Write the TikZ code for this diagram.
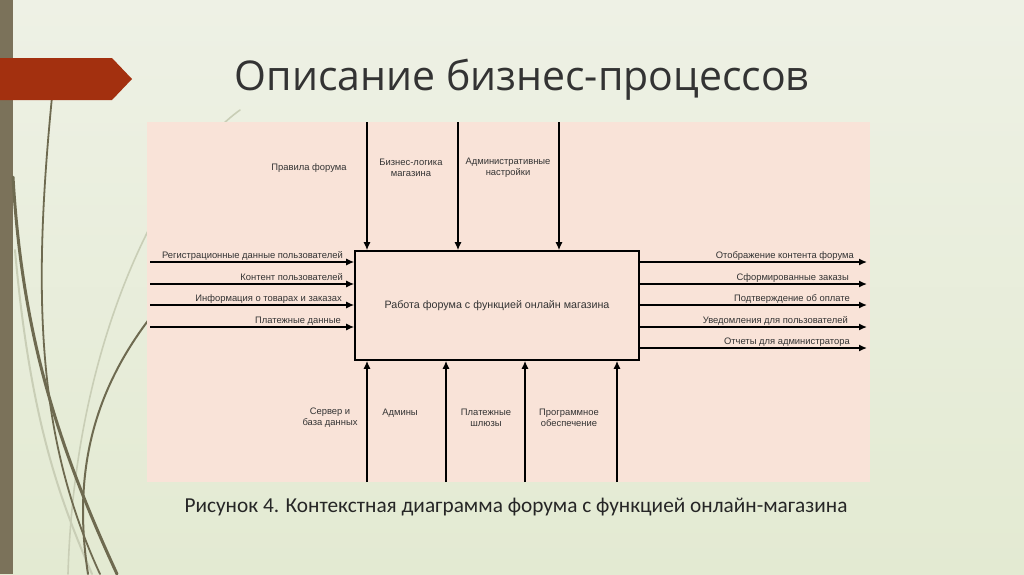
\documentclass[tikz,border=0pt]{standalone}
\usepackage{fontspec}
\setmainfont{Liberation Sans}
\newfontfamily\titlefont{Open Sans}
\newfontfamily\capfont{Carlito}
\usetikzlibrary{arrows.meta}
\definecolor{bgtop}{HTML}{EEF1E5}
\definecolor{bgbot}{HTML}{E3EAD2}
\definecolor{barcol}{HTML}{7B725A}
\definecolor{redcol}{HTML}{A3300F}
\definecolor{pinkcol}{HTML}{F9E3D8}
\definecolor{olive}{HTML}{6E6A50}
\definecolor{lightolive}{HTML}{C9CEB6}
\definecolor{labelgray}{HTML}{333333}
\begin{document}
\begin{tikzpicture}[x=1pt,y=-1pt,
  arr/.style={line width=1.4pt,-{Latex[length=8pt,width=7pt]}},
  lbl/.style={font=\fontsize{9.4}{11}\selectfont,text=labelgray,inner sep=0pt},
  clbl/.style={lbl,align=center},
  procbox/.style={draw,line width=1.6pt,fill=pinkcol,minimum width=284pt,minimum height=109pt,inner sep=0pt,font=\fontsize{10.7}{13}\selectfont,text=labelgray},
  darkcurve/.style={olive,line cap=round},
  lightcurve/.style={lightolive,line cap=round}]
\useasboundingbox (0,0) rectangle (1024,574);
% background
\shade[top color=bgtop,bottom color=bgbot] (0,0) rectangle (1024,574);
\fill[barcol] (0,0) rectangle (13,574);
% decorative curves
\draw[lightcurve,line width=1.6pt] (240,110) .. controls (170,160) and (75,330) .. (68,574);
\draw[lightcurve,line width=2pt] (15,250) .. controls (30,420) and (60,500) .. (92,574);
\draw[darkcurve,line width=3pt] (13,177) .. controls (22,330) and (55,440) .. (117,574);
\draw[darkcurve,line width=1.8pt] (52,97) .. controls (32,300) and (38,440) .. (100,574);
\draw[darkcurve,line width=2pt] (150,318) .. controls (95,390) and (72,470) .. (88,574);
% red arrow
\fill[redcol] (0,58) -- (112,58) -- (132,79) -- (112,100) -- (0,100) -- cycle;
% title
\node[font=\titlefont\fontsize{41}{48}\selectfont,text=black!80,anchor=center] (title) at (522,80) {Описание бизнес-процессов};
% diagram background
\fill[pinkcol] (147,122) rectangle (870,482);
% process box
\node[procbox] (P) at (497,305.5) {Работа форума с функцией онлайн магазина};
% top controls
\coordinate (t1) at (367,122);
\coordinate (t2) at (458,122);
\coordinate (t3) at (559,122);
\draw[arr] (t1) -- (t1 |- P.north);
\draw[arr] (t2) -- (t2 |- P.north);
\draw[arr] (t3) -- (t3 |- P.north);
\node[lbl] (c1) at (309,168) {Правила форума};
\node[clbl] (c2) at (411,168) {Бизнес-логика\\магазина};
\node[clbl] (c3) at (508,168) {Административные\\настройки};
% inputs
\coordinate (l1) at (150,262);
\coordinate (l2) at (150,284);
\coordinate (l3) at (150,305);
\coordinate (l4) at (150,327);
\draw[arr] (l1) -- (l1 -| P.west);
\draw[arr] (l2) -- (l2 -| P.west);
\draw[arr] (l3) -- (l3 -| P.west);
\draw[arr] (l4) -- (l4 -| P.west);
\node[lbl,anchor=base east] (i1) at (343,258.5) {Регистрационные данные пользователей};
\node[lbl,anchor=base east] (i2) at (343,280.5) {Контент пользователей};
\node[lbl,anchor=base east] (i3) at (342,301.5) {Информация о товарах и заказах};
\node[lbl,anchor=base east] (i4) at (341,323.5) {Платежные данные};
% outputs
\coordinate (r1) at (867,262);
\coordinate (r2) at (867,284);
\coordinate (r3) at (867,305);
\coordinate (r4) at (867,327);
\coordinate (r5) at (867,348);
\draw[arr] (r1 -| P.east) -- (r1);
\draw[arr] (r2 -| P.east) -- (r2);
\draw[arr] (r3 -| P.east) -- (r3);
\draw[arr] (r4 -| P.east) -- (r4);
\draw[arr] (r5 -| P.east) -- (r5);
\node[lbl,anchor=base east] (o1) at (854,258.5) {Отображение контента форума};
\node[lbl,anchor=base east] (o2) at (849,280.5) {Сформированные заказы};
\node[lbl,anchor=base east] (o3) at (850,301.5) {Подтверждение об оплате};
\node[lbl,anchor=base east] (o4) at (848,323.5) {Уведомления для пользователей};
\node[lbl,anchor=base east] (o5) at (850,344.5) {Отчеты для администратора};
% mechanisms
\coordinate (b1) at (367,482);
\coordinate (b2) at (446,482);
\coordinate (b3) at (525,482);
\coordinate (b4) at (617,482);
\draw[arr] (b1) -- (b1 |- P.south);
\draw[arr] (b2) -- (b2 |- P.south);
\draw[arr] (b3) -- (b3 |- P.south);
\draw[arr] (b4) -- (b4 |- P.south);
\node[clbl] (m1) at (330,418) {Сервер и\\база данных};
\node[lbl] (m2) at (400,413) {Админы};
\node[clbl] (m3) at (486,418) {Платежные\\шлюзы};
\node[clbl] (m4) at (569,418) {Программное\\обеспечение};
% caption
\node[font=\capfont\fontsize{21.3}{25}\selectfont,text=black!85] (cap) at (516,507) {Рисунок 4. Контекстная диаграмма форума с функцией онлайн-магазина};
\end{tikzpicture}
\end{document}
